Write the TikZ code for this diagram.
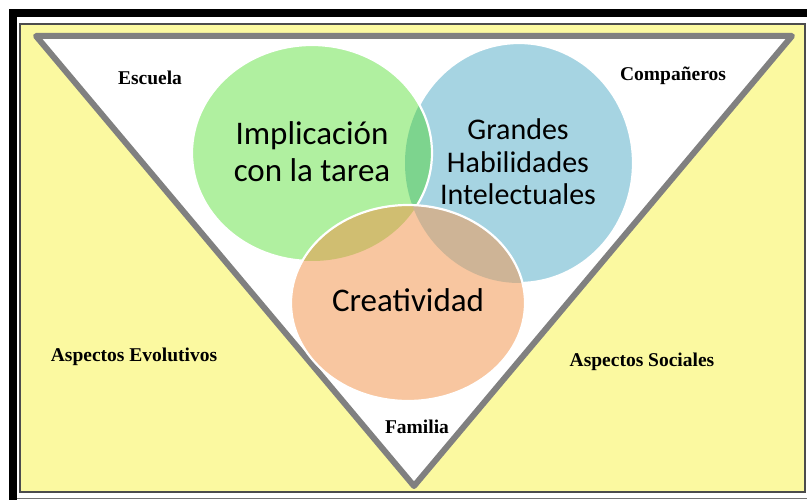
\documentclass[tikz,border=0pt]{standalone}
\usepackage{fontspec}
\setmainfont{Liberation Serif}
\newfontfamily\circfont{Carlito}
\definecolor{bg}{RGB}{251,249,160}
\definecolor{tri}{RGB}{128,128,128}
\definecolor{im}{RGB}{176,240,160}
\definecolor{gh}{RGB}{166,212,226}
\definecolor{cr}{RGB}{248,198,160}
\definecolor{imgh}{RGB}{125,212,142}
\definecolor{imcr}{RGB}{208,190,113}
\definecolor{ghcr}{RGB}{206,180,150}
\tikzset{
    x=1pt, y=-1pt,
    every node/.style = {
        inner sep = 0pt,
        outer sep = 0pt
    },
    ring/.style = {draw=white, line width=2.2pt},
    sector/.style = {font=\circfont\fontsize{33}{37}\selectfont, align=center},
    aspect/.style = {font=\bfseries\fontsize{19.5}{22}\selectfont}
}
% shapes of the three sets
\def\imshape{(312,153) ellipse [x radius=120, y radius=108]}
\def\ghshape{(519,163) ellipse [x radius=114, y radius=120]}
\def\crshape{(408,303) ellipse [x radius=117, y radius=98]}

\begin{document}
\begin{tikzpicture}
  \useasboundingbox (0,0) rectangle (807,500);

  %% frame
  \fill[white] (0,0) rectangle (807,500);
  \draw[line width=8pt] (13,500) -- (13,13.5) -- (807,13.5);
  \draw[black!55, line width=1pt] (17,498) -- (807,498);
  \draw[black!70, line width=1.2pt, fill=bg] (20,24) rectangle (805,492);

  %% triangle
  \coordinate (TL) at (36,36);
  \coordinate (TR) at (792,36);
  \coordinate (B) at (414,486);
  \draw[tri, fill=white, line width=6pt, line join=round] (TL) -- (TR) -- (B) -- cycle;

  %% sets
  \fill[gh] \ghshape;
  \draw[ring] \ghshape;
  \fill[im] \imshape;
  \begin{scope}
    \clip \imshape;
    \fill[imgh] \ghshape;
  \end{scope}
  \draw[ring] \imshape;
  \fill[cr] \crshape;
  \begin{scope}
    \clip \crshape;
    \fill[imcr] \imshape;
    \fill[ghcr] \ghshape;
  \end{scope}
  \draw[ring] \crshape;

  \node[sector] (IT) at (312,152) {Implicación\\con la tarea};
  \node[sector, font=\circfont\fontsize{30}{32.5}\selectfont] (GHI) at (518,162) {Grandes\\Habilidades\\Intelectuales};
  \node[sector] (CR) at (408,300) {Creatividad};

  %% surroundings
  \node[aspect] (ES) at (150,78) {Escuela};
  \node[aspect] (CO) at (673,76) {Compañeros};
  \node[aspect] (AE) at (134,357) {Aspectos Evolutivos};
  \node[aspect] (AS) at (642,362) {Aspectos Sociales};
  \node[aspect] (FA) at (417,427) {Familia};

\end{tikzpicture}
\end{document}
